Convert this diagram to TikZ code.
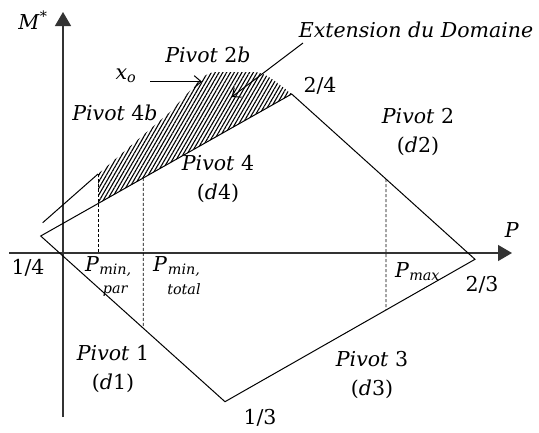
\documentclass[tikz,border=0pt]{standalone}
\usepackage{fontspec}
\setmainfont{DejaVu Serif}
\usetikzlibrary{arrows.meta,patterns.meta,calc}
\newcommand\stk[2]{\textsubscript{\begin{tabular}[t]{@{}c@{}}\itshape #1\\[5pt]\itshape #2\end{tabular}}}
\begin{document}
\begin{tikzpicture}[x=1pt,y=-1pt,
  lbl/.style={font=\fontsize{20.5}{29}\selectfont, inner sep=0pt, align=center},
  edge/.style={line width=1pt, black},
  axis/.style={line width=1.3pt, black!80, -{Triangle[length=14pt,width=16pt]}},
  guide/.style={dash pattern=on 3pt off 2pt, line width=0.8pt},
  pointer/.style={line width=1pt, -{Straight Barb[length=7pt,width=12pt]}}]
\useasboundingbox (0,0) rectangle (539,432);
% vertices
\coordinate (v14) at (40.7,236);
\coordinate (v24) at (291.7,94);
\coordinate (v23) at (475,259.3);
\coordinate (v13) at (225,401.7);
% hatched extension
\coordinate (h0) at (98,174);
\coordinate (hb) at (intersection of v14--v24 and 98,0--98,400);
\fill[pattern={Lines[angle=60,distance=3.3pt,line width=1.1pt]}]
  (hb) -- (h0) -- (170,112) -- (200,80) .. controls (206,74) and (210,72) .. (218,72)
  -- (254,72) .. controls (264,72) and (274,80) .. (v24) -- cycle;
% axes
\coordinate (ybot) at (63,417);
\coordinate (ytop) at (63,12);
\coordinate (xl) at (9,253);
\coordinate (xr) at (512,253);
\draw[axis] (ybot) -- (ytop);
\draw[axis] (xl) -- (xr);
% domain
\draw[edge, line join=miter] (v14) -- (v24) -- (v23) -- (v13) -- cycle;
\coordinate (e0) at (42.7,222.7);
\draw[edge] (e0) -- (h0);
% dashed guides
\coordinate (pa) at (98,253);
\draw[guide] (h0) -- (pa);
\coordinate (t1) at (intersection of v14--v24 and 143.3,0--143.3,400);
\coordinate (t2) at (intersection of v14--v13 and 143.3,0--143.3,400);
\draw[guide] (t1) -- (t2);
\coordinate (m1) at (intersection of v24--v23 and 386,0--386,400);
\coordinate (m2) at (intersection of v23--v13 and 386,0--386,400);
\draw[guide] (m1) -- (m2);
% labels
\node[lbl] (Mlab) at (33,20) {\textit{M}\textsuperscript{*}};
\node[lbl] (Plab) at (512,230) {\textit{P}};
\node[lbl] (p2b) at (208,55) {\textit{Pivot} 2\textit{b}};
\node[lbl] (xo) at (126,76) {\textit{x}\textsubscript{\itshape o}};
\node[lbl] (p4b) at (115,113) {\textit{Pivot} 4\textit{b}};
\node[lbl] (ext) at (416,30) {\textit{Extension du Domaine}};
\node[lbl] (l24) at (320,86) {2/4};
\node[lbl] (p2) at (418,132) {\textit{Pivot} 2\\(\textit{d}2)};
\node[lbl] (p4) at (218,179) {\textit{Pivot} 4\\(\textit{d}4)};
\node[lbl] (l14) at (28,268) {1/4};
\node[lbl, anchor=north west] (pminpar) at (85,256) {\textit{P}\stk{min,}{par}};
\node[lbl, anchor=north west] (pmintot) at (153,256) {\textit{P}\stk{min,}{total}};
\node[lbl, anchor=north west] (pmax) at (395,262) {\textit{P}\textsubscript{\itshape max}};
\node[lbl] (l23) at (482,285) {2/3};
\node[lbl] (p3) at (372,375) {\textit{Pivot} 3\\(\textit{d}3)};
\node[lbl] (l13) at (260,418) {1/3};
\node[lbl] (p1) at (113,369) {\textit{Pivot} 1\\(\textit{d}1)};
% pointers
\coordinate (xos) at (150,81.7);
\coordinate (xot) at (202,81.7);
\draw[pointer] (xos) -- (xot);
\coordinate (exs) at (303,43);
\coordinate (ext2) at (231.7,97);
\draw[pointer] (exs) -- (ext2);
\end{tikzpicture}
\end{document}
